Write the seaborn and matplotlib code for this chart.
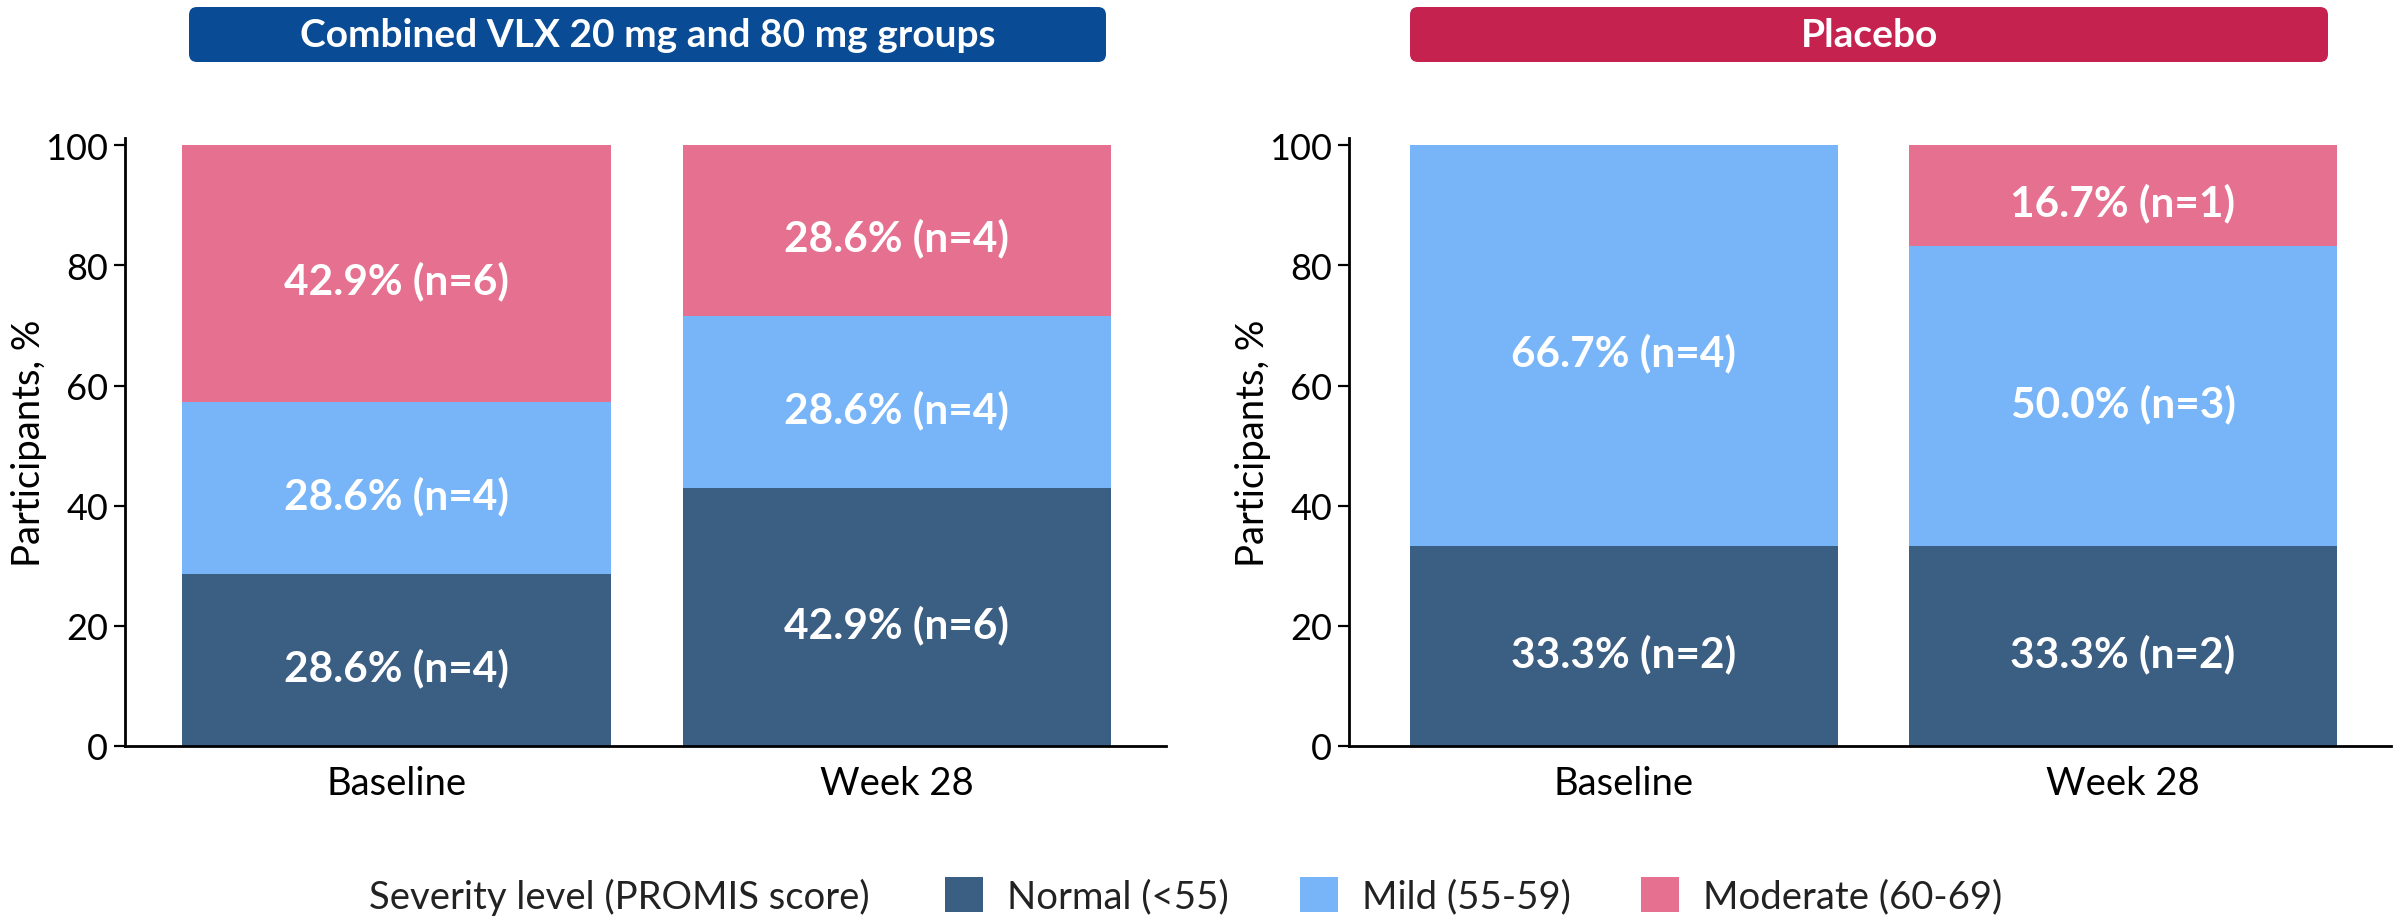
import matplotlib
matplotlib.use("Agg")
import matplotlib.pyplot as plt
from matplotlib.patches import FancyBboxPatch, Patch
import numpy as np
import pandas as pd
import seaborn as sns

# ---- data -------------------------------------------------------------
panel_titles = ["Combined VLX 20 mg and 80 mg groups", "Placebo"]
timepoints = ["Baseline", "Week 28"]
severity_levels = ["Normal (<55)", "Mild (55-59)", "Moderate (60-69)"]

vlx_pct = {"Normal (<55)": [28.6, 42.9],
           "Mild (55-59)": [28.6, 28.6],
           "Moderate (60-69)": [42.9, 28.6]}
vlx_n = {"Normal (<55)": [4, 6],
         "Mild (55-59)": [4, 4],
         "Moderate (60-69)": [6, 4]}

placebo_pct = {"Normal (<55)": [33.3, 33.3],
               "Mild (55-59)": [66.7, 50.0],
               "Moderate (60-69)": [0.0, 16.7]}
placebo_n = {"Normal (<55)": [2, 2],
             "Mild (55-59)": [4, 3],
             "Moderate (60-69)": [0, 1]}

yticks = [0, 20, 40, 60, 80, 100]
legend_title = "Severity level (PROMIS score)"
ylabel = "Participants, %"

# ---- style ------------------------------------------------------------
level_colors = {"Normal (<55)": "#3B5E83",
                "Mild (55-59)": "#77B5F8",
                "Moderate (60-69)": "#E57090"}
title_colors = ["#0A4B96", "#C5224F"]

sns.set_style("white")
plt.rcParams["font.family"] = ["Lato", "DejaVu Sans"]
plt.rcParams["text.color"] = "#1a1a1a"

W, H, DPI = 2400, 920, 100
fig = plt.figure(figsize=(W / DPI, H / DPI), dpi=DPI)

LABEL_FS = 27.5
TICK_FS = 26
BAR_FS = 30.5
HEAD_FS = 28
LABEL_DROP = 1.2  # nudge segment labels slightly below the segment middle


def long_frame(pct, counts):
    rows = []
    for lvl in severity_levels:
        for i, tp in enumerate(timepoints):
            rows.append({"Timepoint": tp, "Level": lvl,
                         "Percent": pct[lvl][i], "n": counts[lvl][i]})
    df = pd.DataFrame(rows)
    df["Level"] = pd.Categorical(df["Level"], severity_levels, ordered=True)
    df = df.sort_values(["Timepoint", "Level"])
    df["Top"] = df.groupby("Timepoint")["Percent"].cumsum()
    df["Bottom"] = df["Top"] - df["Percent"]
    return df


# axes rectangles in pixels: left, right, bottom (y=0), top
axes_px = [(125, 1166), (1349, 2391)]
y0_px, ytop_px = 747, 139
xlims = [(-0.5425, 1.5375), (-0.551, 1.537)]
bar_width = 0.857
boxes_px = [(189, 1106), (1410, 2328)]

for k, (pct, counts) in enumerate([(vlx_pct, vlx_n), (placebo_pct, placebo_n)]):
    left, right = axes_px[k]
    ax = fig.add_axes([left / W, 1 - y0_px / H,
                       (right - left) / W, (y0_px - ytop_px) / H])
    df = long_frame(pct, counts)

    # stacked bars: cumulative totals drawn from the top layer down
    for lvl in reversed(severity_levels):
        sub = df[df["Level"] == lvl]
        sns.barplot(data=sub, x="Timepoint", y="Top", order=timepoints,
                    color=level_colors[lvl], width=bar_width, errorbar=None,
                    saturation=1, linewidth=0, edgecolor="none", ax=ax)

    # segment labels
    for _, r in df.iterrows():
        if r["Percent"] <= 0:
            continue
        xi = timepoints.index(r["Timepoint"])
        ax.text(xi, r["Bottom"] + r["Percent"] / 2 - LABEL_DROP,
                f"{r['Percent']:.1f}% (n={r['n']})",
                ha="center", va="center", color="white",
                fontsize=BAR_FS, fontweight="bold")

    ax.set_xlim(*xlims[k])
    ax.set_ylim(0, 101.2)
    ax.set_yticks(yticks)
    ax.tick_params(axis="y", direction="out", length=8, width=1.6,
                   labelsize=TICK_FS, pad=4, left=True, colors="black")
    ax.tick_params(axis="x", length=0, labelsize=LABEL_FS, pad=14, colors="black")
    ax.set_xlabel("")
    ax.set_ylabel(ylabel, fontsize=LABEL_FS, color="black")
    ax.yaxis.set_label_coords(-0.075, 0.5)
    for side in ["top", "right"]:
        ax.spines[side].set_visible(False)
    for side in ["left", "bottom"]:
        ax.spines[side].set_linewidth(2.0)
        ax.spines[side].set_color("black")

    # panel heading box
    bx0, bx1 = boxes_px[k]
    box = FancyBboxPatch((bx0 / DPI, (H - 63) / DPI), (bx1 - bx0) / DPI, 55 / DPI,
                         boxstyle="round,pad=0,rounding_size=0.08",
                         transform=fig.dpi_scale_trans, facecolor=title_colors[k],
                         edgecolor="none")
    fig.patches.append(box)
    fig.text((bx0 + bx1) / 2 / W, 1 - 35.5 / H, panel_titles[k],
             ha="center", va="center", color="white",
             fontsize=HEAD_FS, fontweight="bold")

# legend: title text, then one swatch + label per severity level
legend_y = 1 - 897 / H
fig.text(369 / W, legend_y, legend_title, ha="left", va="center",
         fontsize=LABEL_FS, color="#222222")
swatch_x_px = [945, 1300, 1641]
for lvl, sx in zip(severity_levels, swatch_x_px):
    fig.legend([Patch(facecolor=level_colors[lvl], edgecolor="none")], [lvl],
               loc="center left", bbox_to_anchor=(sx / W, legend_y),
               frameon=False, fontsize=LABEL_FS, handlelength=1.0,
               handleheight=1.0, handletextpad=0.63, borderpad=0,
               borderaxespad=0, labelcolor="#222222")

fig.savefig("out.png", dpi=DPI, facecolor="white")
